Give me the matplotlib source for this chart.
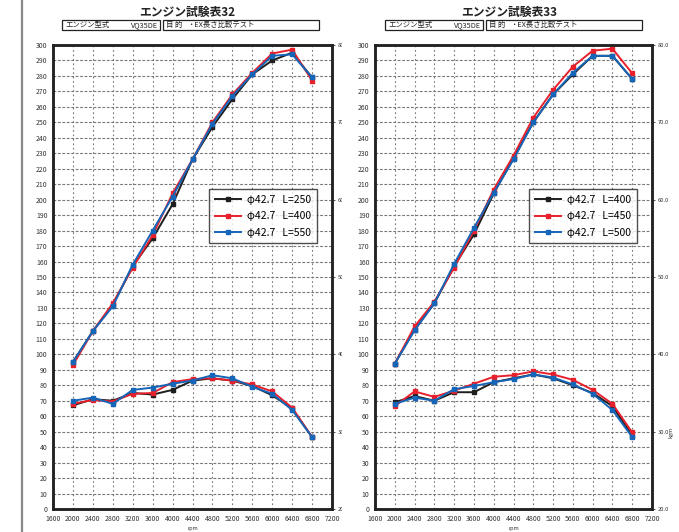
import matplotlib
matplotlib.use('Agg')
import matplotlib.pyplot as plt
from matplotlib.patches import Rectangle
from matplotlib.lines import Line2D

plt.rcParams['font.family'] = ['Noto Sans CJK JP', 'DejaVu Sans']

# rpm points
rpm = [2000, 2400, 2800, 3200, 3600, 4000, 4400, 4800, 5200, 5600, 6000, 6400, 6800]

titles = ['エンジン試験表32', 'エンジン試験表33']
labels32 = ['φ42.7   L=250', 'φ42.7   L=400', 'φ42.7   L=550']
labels33 = ['φ42.7   L=400', 'φ42.7   L=450', 'φ42.7   L=500']

# --- sheet 32 ---
# power (PS, left axis)
ps32_a = [95, 115, 132, 157, 175, 197, 226, 247, 265, 281, 290, 295, 279]
ps32_b = [93, 115, 133, 156, 177, 204, 226, 250, 268, 282, 294.5, 297, 277]
ps32_c = [95, 115, 131, 158, 180, 202, 226, 249, 267, 281, 293, 294, 279]
# torque (kgm, right axis)
tq32_a = [33.4, 34.2, 34.0, 35.0, 34.8, 35.4, 36.6, 36.9, 36.6, 35.9, 34.7, 33.0, 29.3]
tq32_b = [33.6, 34.1, 33.9, 34.9, 35.0, 36.4, 36.8, 36.9, 36.6, 36.1, 35.2, 33.1, 29.3]
tq32_c = [34.0, 34.4, 33.6, 35.4, 35.7, 36.2, 36.6, 37.3, 36.9, 35.8, 34.9, 32.8, 29.3]

# --- sheet 33 ---
ps33_a = [94, 116, 133, 157, 177.5, 204, 227, 250, 268, 281, 293, 293, 278]
ps33_b = [94, 118, 134, 156, 180, 206.5, 228.5, 253, 271, 286, 296.3, 297.6, 281.7]
ps33_c = [94, 115.5, 133, 158.5, 181.7, 204.5, 226, 250, 268, 282, 293, 293, 278]
tq33_a = [33.8, 34.6, 34.0, 35.1, 35.1, 36.4, 36.9, 37.4, 36.9, 36.0, 35.0, 33.3, 29.5]
tq33_b = [33.3, 35.2, 34.5, 35.3, 36.2, 37.1, 37.3, 37.8, 37.4, 36.7, 35.4, 33.6, 29.9]
tq33_c = [33.6, 34.4, 34.0, 35.5, 35.9, 36.4, 36.8, 37.4, 37.0, 36.1, 34.9, 32.8, 29.3]

colors = ['#1e1e1e', '#e8202c', '#1565b8']

W, H = 679, 532
fig = plt.figure(figsize=(W / 100, H / 100), dpi=100)


def px(x0, y0, x1, y1):
    # pixel box -> figure fraction rect
    return [x0 / W, 1 - y1 / H, (x1 - x0) / W, (y1 - y0) / H]


def panel(x0, x1, title, ps, tq, labels, z, header):
    ax = fig.add_axes(px(x0, 45, x1, 509))
    ax.set_zorder(z)
    ax2 = ax.twinx()
    ax2.set_zorder(z + 0.1)

    ax.set_xlim(1600, 7200)
    ax.set_ylim(0, 300)
    ax2.set_ylim(20, 80)
    ax.set_xticks(range(1600, 7201, 400))
    ax.set_yticks(range(0, 301, 10))
    ax2.set_yticks(range(20, 81, 10))
    ax2.set_yticklabels(['%.1f' % v for v in range(20, 81, 10)])
    ax.tick_params(axis='both', length=0, labelsize=5, colors='#333', pad=4)
    ax2.tick_params(axis='y', length=2, width=0.6, labelsize=4.2, colors='#333', pad=2)

    for v in range(2000, 7000, 400):
        ax.axvline(v, color='#777', lw=0.8, ls=(0, (1.5, 2.5)), zorder=0.5)
    for v in range(10, 300, 10):
        ax.axhline(v, color='#777', lw=0.8, ls=(0, (2.5, 1.5)), zorder=0.5)

    for s in list(ax.spines.values()) + list(ax2.spines.values()):
        s.set_linewidth(1.8)
        s.set_color('#222')

    handles = []
    for p, t, c, lab in zip(ps, tq, colors, labels):
        ax.plot(rpm, p, color=c, lw=1.4, marker='s', ms=3.5, zorder=3)
        ax2.plot(rpm, t, color=c, lw=1.4, marker='s', ms=3.5, zorder=3)
        handles.append(Line2D([], [], color=c, lw=1.4, marker='s', ms=3, label=lab))

    leg = ax2.legend(handles=handles, loc='upper right', bbox_to_anchor=(0.965, 0.70),
                     fontsize=7.5, frameon=True, fancybox=False, edgecolor='#222',
                     handlelength=2.5, labelspacing=0.6, borderpad=0.55, handletextpad=0.6)
    leg.get_frame().set_linewidth(1.0)

    ax.text(0.5, -0.037, 'rpm', transform=ax.transAxes, fontsize=4, ha='center', va='top', color='#333')
    ax2.text(1.07, 0.165, 'kgm', transform=ax.transAxes, fontsize=4, rotation=90, ha='center', va='center', color='#333')

    cx, bx = header
    fig.text(cx / W, 1 - 12 / H, title, fontsize=8.5, fontweight='bold', ha='center', va='center', color='#222')
    b1 = (bx, bx + 98)
    b2 = (bx + 101, bx + 257)
    for a, b in (b1, b2):
        r = Rectangle((a / W, 1 - 29.5 / H), (b - a) / W, 9.5 / H, transform=fig.transFigure,
                      fill=False, edgecolor='#222', lw=0.9)
        r.set_zorder(z + 0.2)
        fig.add_artist(r)
    yy = 1 - 24.8 / H
    fig.text((b1[0] + 3) / W, yy, 'エンジン型式', fontsize=5.3, va='center', color='#222')
    fig.text((b1[1] - 2) / W, yy, 'VQ35DE', fontsize=5.3, va='center', ha='right', color='#222')
    fig.text((b2[0] + 3) / W, yy, '目 的', fontsize=5.3, va='center', color='#222')
    fig.text((b2[0] + 24) / W, yy, '・EX長さ比較テスト', fontsize=5.3, va='center', color='#222')
    return ax


panel(53, 332, titles[0], [ps32_a, ps32_b, ps32_c], [tq32_a, tq32_b, tq32_c], labels32, 0, (187, 62))

# white sheet for the second page, covering the cut-off labels of the first
cover = Rectangle((342 / W, 0), 1 - 342 / W, 1, transform=fig.transFigure, facecolor='white', edgecolor='none')
cover.set_zorder(0.5)
fig.add_artist(cover)

panel(375, 652, titles[1], [ps33_a, ps33_b, ps33_c], [tq33_a, tq33_b, tq33_c], labels33, 1, (509, 385))

# page border on the left
fig.add_artist(Line2D([22 / W, 22 / W], [0, 1], transform=fig.transFigure, color='#888', lw=1.6))

fig.savefig('out.png', dpi=100)
